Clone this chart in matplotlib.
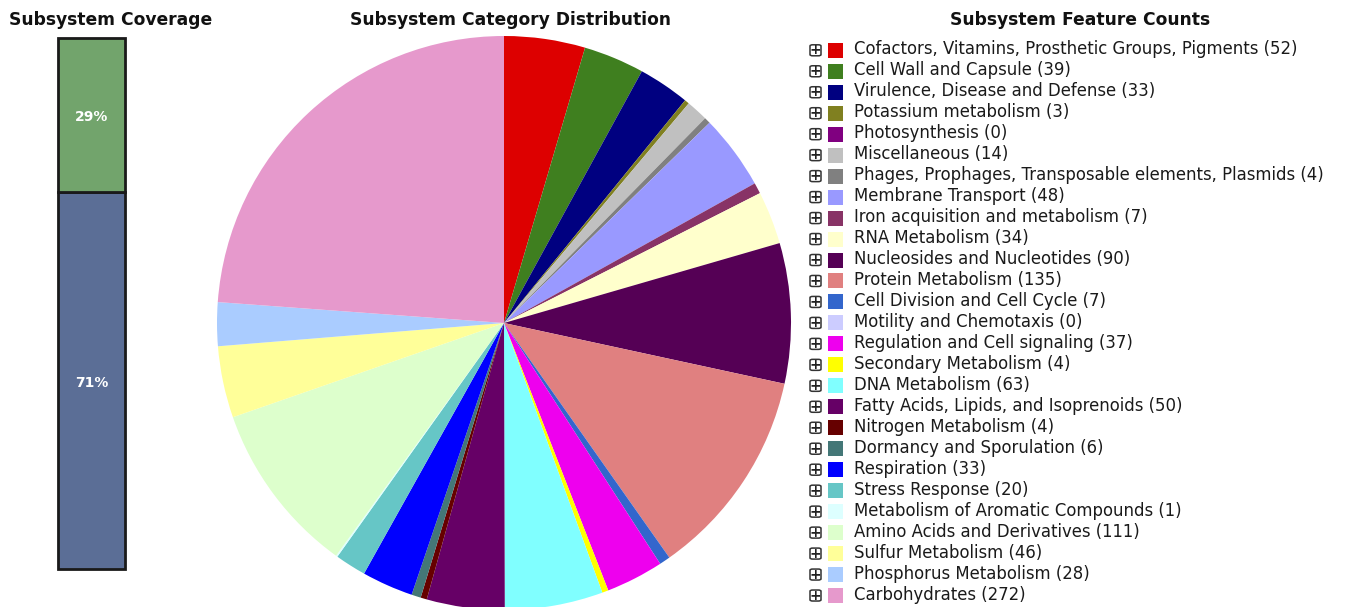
import matplotlib
matplotlib.use("Agg")
import matplotlib.pyplot as plt
from matplotlib.patches import Rectangle, FancyBboxPatch

# ---------------- data ----------------
categories = [
    "Cofactors, Vitamins, Prosthetic Groups, Pigments",
    "Cell Wall and Capsule",
    "Virulence, Disease and Defense",
    "Potassium metabolism",
    "Photosynthesis",
    "Miscellaneous",
    "Phages, Prophages, Transposable elements, Plasmids",
    "Membrane Transport",
    "Iron acquisition and metabolism",
    "RNA Metabolism",
    "Nucleosides and Nucleotides",
    "Protein Metabolism",
    "Cell Division and Cell Cycle",
    "Motility and Chemotaxis",
    "Regulation and Cell signaling",
    "Secondary Metabolism",
    "DNA Metabolism",
    "Fatty Acids, Lipids, and Isoprenoids",
    "Nitrogen Metabolism",
    "Dormancy and Sporulation",
    "Respiration",
    "Stress Response",
    "Metabolism of Aromatic Compounds",
    "Amino Acids and Derivatives",
    "Sulfur Metabolism",
    "Phosphorus Metabolism",
    "Carbohydrates",
]
counts = [52, 39, 33, 3, 0, 14, 4, 48, 7, 34, 90, 135, 7, 0, 37, 4, 63, 50,
          4, 6, 33, 20, 1, 111, 46, 28, 272]
colors = [
    "#dd0000", "#3f7f1f", "#000080", "#808020", "#800080", "#c0c0c0",
    "#808080", "#9999ff", "#883366", "#ffffcc", "#550055", "#e08080",
    "#3366cc", "#ccccff", "#ee00ee", "#ffff00", "#80ffff", "#660066",
    "#660000", "#447777", "#0000ff", "#66c6c6", "#ddffff", "#ddffcc",
    "#ffff99", "#aaccff", "#e699cc",
]
coverage_labels = ["Not in subsystem", "In subsystem"]
coverage_values = [71, 29]
coverage_colors = ["#5b6e96", "#72a46c"]

# ---------------- figure ----------------
W, H = 1352, 607
fig = plt.figure(figsize=(W / 100, H / 100), dpi=100)
fig.patch.set_facecolor("white")


def px_axes(x0, y0, x1, y1):
    """axes from pixel box (top-left origin)"""
    return fig.add_axes([x0 / W, 1 - y1 / H, (x1 - x0) / W, (y1 - y0) / H])


def fx(x):
    return x / W


def fy(y):
    return 1 - y / H


# titles
title_kw = dict(fontsize=12.3, fontweight="bold", ha="center", va="center",
                family="DejaVu Sans", color="#111111")
fig.text(fx(111), fy(20), "Subsystem Coverage", **title_kw)
fig.text(fx(511), fy(20), "Subsystem Category Distribution", **title_kw)
fig.text(fx(1080), fy(20), "Subsystem Feature Counts", **title_kw)

# ---------------- coverage bar ----------------
axb = px_axes(58, 38, 125, 569)
bottom = 0
for v, c in zip(coverage_values, coverage_colors):
    bars = axb.bar([0], [v], bottom=bottom, width=1.0, color=c,
                   edgecolor="#1a1a1a", linewidth=2.0)
    for b in bars:
        b.set_clip_on(False)
    axb.text(0, bottom + v / 2 - 0.4, f"{v}%", ha="center",
             va="center", color="white", fontsize=10, fontweight="bold")
    bottom += v
axb.set_xlim(-0.5, 0.5)
axb.set_ylim(0, 100)
axb.axis("off")

# ---------------- pie ----------------
cx, cy, r = 504, 323, 287
axp = px_axes(cx - r, cy - r, cx + r, cy + r)
axp.pie(counts, colors=colors, startangle=90, counterclock=False,
        wedgeprops=dict(linewidth=0))
axp.set_xlim(-1, 1)
axp.set_ylim(-1, 1)
axp.set_aspect("auto")
axp.axis("off")

# ---------------- legend ----------------
y0, dy = 50.3, 20.97
for i, (name, n, c) in enumerate(zip(categories, counts, colors)):
    y = y0 + i * dy
    # expand icon
    fig.patches.append(FancyBboxPatch((fx(810), fy(y + 5.5)), 11 / W, 11 / H,
                                      boxstyle="round,pad=0,rounding_size=0.002",
                                      transform=fig.transFigure,
                                      facecolor="white", edgecolor="#333333",
                                      linewidth=1.1))
    fig.text(fx(815.5), fy(y), "+", ha="center", va="center", fontsize=10,
             fontweight="bold", color="#222222")
    # colour swatch
    fig.patches.append(Rectangle((fx(828), fy(y + 7.5)), 15 / W, 15 / H,
                                 transform=fig.transFigure, facecolor=c,
                                 edgecolor="none"))
    fig.text(fx(854), fy(y - 1), f"{name} ({n})", ha="left", va="center",
             fontsize=11.9, color="#1a1a1a", family="DejaVu Sans")

fig.savefig("out.png", dpi=100, facecolor="white")
